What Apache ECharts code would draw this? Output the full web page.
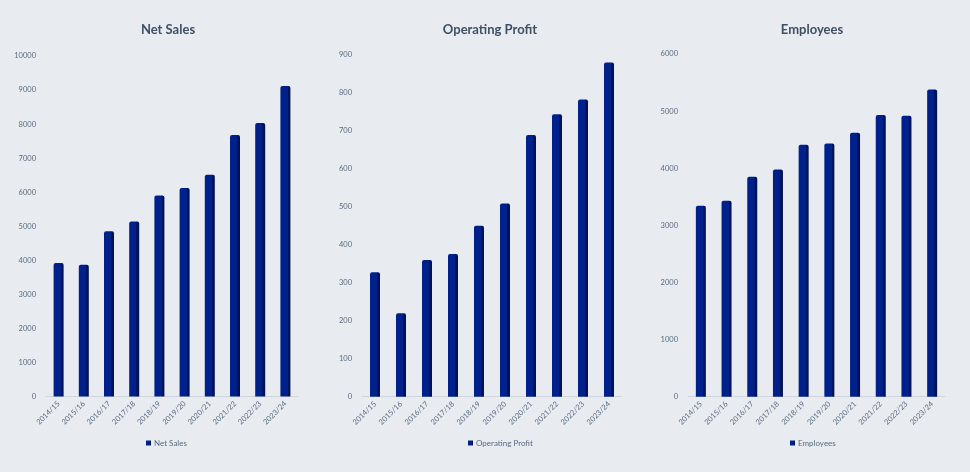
<!DOCTYPE html>
<html>
<head>
<meta charset="utf-8">
<script src="https://cdn.jsdelivr.net/npm/echarts@6/dist/echarts.min.js"></script>
<style>
  html, body { margin: 0; padding: 0; background: #e8ebef; }
  #chart { width: 970px; height: 472px; }
</style>
</head>
<body>
<div id="chart"></div>
<script>
  const years = ['2014/15', '2015/16', '2016/17', '2017/18', '2018/19', '2019/20', '2020/21', '2021/22', '2022/23', '2023/24'];
  const netSales = [3920, 3870, 4850, 5140, 5900, 6120, 6510, 7680, 8030, 9120];
  const operatingProfit = [328, 220, 360, 376, 450, 509, 689, 744, 783, 880];
  const employees = [3345, 3430, 3850, 3980, 4410, 4435, 4620, 4930, 4920, 5380];

  const panels = [
    { name: 'Net Sales', data: netSales, max: 10000, interval: 1000, left: 46, width: 252, top: 56, height: 340.5, cx: 163 },
    { name: 'Operating Profit', data: operatingProfit, max: 900, interval: 100, left: 362, width: 260, top: 55, height: 341.7, cx: 485 },
    { name: 'Employees', data: employees, max: 6000, interval: 1000, left: 688, width: 257, top: 54, height: 342.7, cx: 807 },
  ];

  const labelColor = '#5a6a80';
  const fontFamily = 'Lato, "Open Sans", sans-serif';

  // flat face with a darker right edge, like the reference's shaded bars
  const barColor = new echarts.graphic.LinearGradient(0, 0, 1, 0, [
    { offset: 0, color: '#00218c' },
    { offset: 0.72, color: '#00218c' },
    { offset: 0.73, color: '#001660' },
    { offset: 1, color: '#00114d' },
  ]);

  const chart = echarts.init(document.getElementById('chart'), null, { renderer: 'canvas' });

  chart.setOption({
    backgroundColor: '#e8ebef',
    animation: false,
    textStyle: { fontFamily },
    title: panels.map((p) => ({
      text: p.name,
      left: p.cx,
      top: 18,
      textAlign: 'center',
      textStyle: { fontSize: 13, fontWeight: 'bold', color: '#3f4f66', fontFamily },
    })),
    legend: panels.map((p) => ({
      data: [p.name],
      left: p.cx - 22,
      top: 434,
      itemWidth: 5,
      itemHeight: 5,
      itemGap: 4,
      icon: 'rect',
      textStyle: { fontSize: 8, color: labelColor, fontFamily, padding: [0, 0, 0, -2] },
    })),
    grid: panels.map((p) => ({
      left: p.left,
      width: p.width,
      top: p.top,
      height: p.height,
      outerBoundsMode: 'none',
    })),
    xAxis: panels.map((p, i) => ({
      type: 'category',
      gridIndex: i,
      data: years,
      axisLine: { lineStyle: { color: '#d0d5dc', width: 1 } },
      axisTick: { show: false },
      axisLabel: { rotate: 45, fontSize: 7.5, color: labelColor, margin: 6, interval: 0 },
    })),
    yAxis: panels.map((p, i) => ({
      type: 'value',
      gridIndex: i,
      min: 0,
      max: p.max,
      interval: p.interval,
      axisLine: { show: false },
      axisTick: { show: false },
      splitLine: { show: false },
      axisLabel: { fontSize: 7.5, color: labelColor, margin: 10, formatter: (v) => String(v) },
    })),
    series: panels.map((p, i) => ({
      type: 'bar',
      name: p.name,
      xAxisIndex: i,
      yAxisIndex: i,
      data: p.data,
      barWidth: 10,
      itemStyle: { color: barColor, borderRadius: [2, 2, 0, 0] },
    })),
  });
</script>
</body>
</html>
